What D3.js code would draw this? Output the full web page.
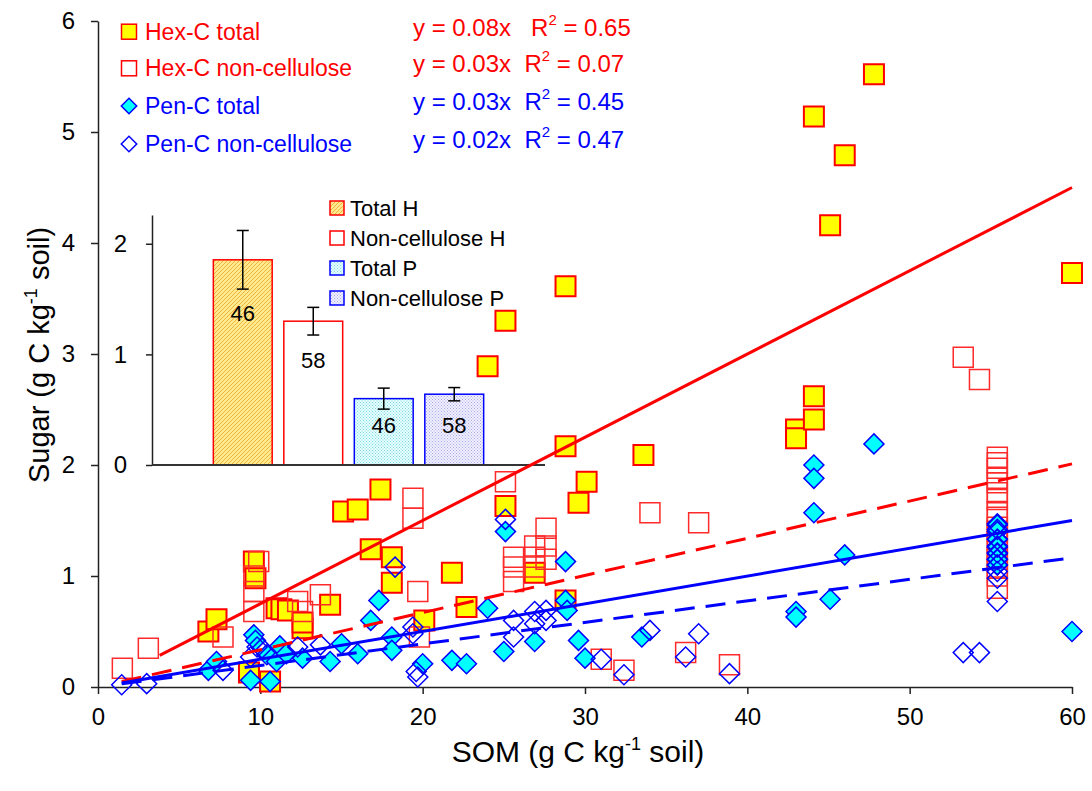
<!DOCTYPE html>
<html>
<head>
<meta charset="utf-8">
<script src="https://cdnjs.cloudflare.com/ajax/libs/d3/7.8.5/d3.min.js"></script>
<style>
body { margin: 0; background: #fff; }
svg { font-family: "Liberation Sans", Arial, sans-serif; }
.axis path, .axis line { stroke: #222; stroke-width: 1.5; }
.axis text { font-size: 24px; fill: #000; font-family: "Liberation Sans", Arial, sans-serif; }
</style>
</head>
<body>
<svg id="chart" width="1092" height="791"></svg>
<script>
// scatter series, [SOM, sugar]
var hexTotal = [[6.8,0.50],[7.3,0.61],[9.3,0.13],[9.6,1.13],[9.7,0.98],[10.6,0.05],[11.0,0.71],[11.3,0.70],
  [11.7,0.69],[12.6,0.53],[12.6,0.58],[14.3,0.74],[15.1,1.58],[16.0,1.60],[16.8,1.24],[17.4,1.78],[18.1,1.17],
  [18.1,0.94],[20.1,0.60],[21.8,1.03],[22.7,0.72],[24.0,2.89],[25.1,3.30],[25.1,1.63],[26.9,1.03],[28.8,3.61],
  [28.8,2.17],[28.8,0.78],[29.6,1.66],[30.1,1.85],[33.6,2.09],[43.0,2.32],[43.0,2.24],[44.1,2.62],[44.1,2.41],
  [44.1,5.14],[45.1,4.16],[46.0,4.79],[47.8,5.52],[60.0,3.73]];

var hexNonCell = [[1.5,0.17],[3.1,0.35],[7.7,0.45],[9.9,1.13],[9.6,1.00],[9.6,0.86],[9.6,0.68],[12.3,0.77],
  [12.6,0.68],[13.7,0.83],[19.4,1.70],[19.4,1.52],[19.7,0.86],[19.8,0.45],[25.1,1.85],[25.6,1.17],[25.6,1.08],
  [25.6,0.95],[26.9,1.27],[26.9,1.17],[26.9,1.08],[27.6,1.43],[27.6,1.27],[27.6,1.15],[31.0,0.25],[32.4,0.15],
  [34.0,1.57],[36.2,0.31],[37.0,1.48],[38.9,0.20],[53.3,2.97],[54.3,2.77],
  [55.4,2.07],[55.4,2.02],[55.4,1.97],[55.4,1.88],[55.4,1.84],[55.4,1.75],[55.4,1.69],[55.4,1.58],[55.4,1.53],
  [55.4,1.44],[55.4,1.40],[55.4,1.31],[55.4,1.22],[55.4,1.15],[55.4,1.08],[55.4,1.00],[55.4,0.89]];

var penTotal = [[6.8,0.15],[7.3,0.23],[9.4,0.06],[9.6,0.47],[9.7,0.42],[10.4,0.29],[10.6,0.05],[11.0,0.23],
  [11.2,0.37],[11.6,0.30],[12.6,0.26],[14.3,0.23],[15.0,0.39],[16.0,0.30],[16.8,0.60],[17.3,0.78],[18.1,0.45],
  [18.1,0.33],[20.0,0.21],[21.8,0.24],[22.7,0.21],[24.0,0.71],[25.0,0.32],[25.1,1.40],[26.9,0.41],[28.8,1.13],
  [28.8,0.78],[28.9,0.69],[29.6,0.42],[30.0,0.26],[33.5,0.45],[43.0,0.68],[43.0,0.63],[44.1,2.00],[44.1,1.88],
  [44.1,1.57],[45.1,0.79],[46.0,1.19],[47.8,2.19],[60.0,0.50],
  [55.4,1.47],[55.4,1.40],[55.4,1.33],[55.4,1.27],[55.4,1.20],[55.4,1.15],[55.4,1.10]];

var penNonCell = [[1.46,0.02],[3.0,0.03],[7.7,0.15],[9.4,0.27],[9.8,0.36],[10.1,0.35],[12.3,0.36],[13.7,0.38],
  [18.3,1.08],[19.4,0.54],[19.4,0.48],[19.6,0.14],[19.7,0.09],[25.1,1.51],[25.6,0.60],[25.6,0.45],[26.9,0.68],
  [26.9,0.57],[27.6,0.69],[27.6,0.60],[31.0,0.25],[32.4,0.11],[34.0,0.51],[36.2,0.27],[37.0,0.48],[38.9,0.12],
  [53.3,0.31],[54.3,0.31],
  [55.4,1.46],[55.4,1.42],[55.4,1.33],[55.4,1.26],[55.4,1.21],[55.4,1.15],[55.4,1.10],[55.4,1.04],[55.4,0.98],[55.4,0.77]];

// trendlines through origin
var seriesNames = ["Hex-C total", "Hex-C non-cellulose", "Pen-C total", "Pen-C non-cellulose"];
var trendSlope = [0.075, 0.0335, 0.025, 0.0194];
var trendFrom = [3.8, 1.46, 1.46, 1.46];
var trendTo = [60, 60, 60, 60];
var eqText = ["y = 0.08x", "y = 0.03x", "y = 0.03x", "y = 0.02x"];
var r2Text = ["0.65", "0.07", "0.45", "0.47"];

var xTicks = [0, 10, 20, 30, 40, 50, 60];
var yTicks = [0, 1, 2, 3, 4, 5, 6];

// inset bar chart
var barNames = ["Total H", "Non-cellulose H", "Total P", "Non-cellulose P"];
var barMean = [1.855, 1.30, 0.60, 0.64];
var barErr = [0.265, 0.125, 0.095, 0.06];
var barN = ["46", "58", "46", "58"];
var barNAt = [1.37, 0.95, 0.36, 0.36];
var insetTicks = [0, 1, 2];

var RED = "#ff0000", BLUE = "#0000ff";

var svg = d3.select("#chart");
var defs = svg.append("defs");

function dotPattern(id, bg, fg) {
  var p = defs.append("pattern").attr("id", id).attr("patternUnits", "userSpaceOnUse")
    .attr("width", 3).attr("height", 3);
  p.append("rect").attr("width", 3).attr("height", 3).attr("fill", bg);
  p.append("rect").attr("width", 1).attr("height", 1).attr("fill", fg);
  p.append("rect").attr("x", 1.5).attr("y", 1.5).attr("width", 1).attr("height", 1).attr("fill", fg);
}
var hatch = defs.append("pattern").attr("id", "hatchH").attr("patternUnits", "userSpaceOnUse")
  .attr("width", 4).attr("height", 4);
hatch.append("rect").attr("width", 4).attr("height", 4).attr("fill", "#ffe98f");
hatch.append("path").attr("d", "M0,4L4,0M-1,1L1,-1M3,5L5,3").attr("stroke", "#f0b43c").attr("stroke-width", 1);
dotPattern("dotP", "#e6ffff", "#7fd6df");
dotPattern("dotNP", "#f0f0ff", "#a8a8e6");
var barFill = ["url(#hatchH)", "#ffffff", "url(#dotP)", "url(#dotNP)"];
var barStroke = [RED, RED, BLUE, BLUE];

var x = d3.scaleLinear().domain([0, 60]).range([98, 1072]);
var y = d3.scaleLinear().domain([0, 6]).range([687, 21]);
var fmt = d3.format("d");

// axes
svg.append("g").attr("class", "axis").attr("transform", "translate(0,687)")
  .call(d3.axisBottom(x).tickValues(xTicks).tickSize(7).tickSizeOuter(0).tickPadding(14).tickFormat(fmt));
svg.append("g").attr("class", "axis").attr("transform", "translate(98,0)")
  .call(d3.axisLeft(y).tickValues(yTicks).tickSize(7).tickSizeOuter(0).tickPadding(16).tickFormat(fmt));

function axisTitle(t) {
  t.append("tspan").text(t.attr("data-a"));
  t.append("tspan").attr("dy", -12).attr("font-size", 18).text("-1");
  t.append("tspan").attr("dy", 12).text(" soil)");
}
svg.append("text").attr("x", 578).attr("y", 762).attr("text-anchor", "middle").attr("font-size", 30)
  .attr("data-a", "SOM (g C kg").call(axisTitle);
svg.append("text").attr("transform", "translate(49,355) rotate(-90)").attr("text-anchor", "middle").attr("font-size", 29)
  .attr("data-a", "Sugar (g C kg").call(axisTitle);

// inset bar chart (drawn under the scatter marks, no background)
var xIn = d3.scaleBand().domain(barNames).range([152, 545]).paddingInner(0.165).paddingOuter(0.87);
var yIn = d3.scaleLinear().domain([0, 2.26]).range([465, 215]);
var inset = svg.append("g");
inset.append("g").attr("class", "axis").attr("transform", "translate(152,0)")
  .call(d3.axisLeft(yIn).tickValues(insetTicks).tickSize(6).tickSizeOuter(0).tickPadding(19).tickFormat(fmt));
inset.selectAll(".bar").data(barNames).enter().append("rect")
  .attr("x", function(d) { return xIn(d); })
  .attr("y", function(d, i) { return yIn(barMean[i]); })
  .attr("width", xIn.bandwidth())
  .attr("height", function(d, i) { return yIn(0) - yIn(barMean[i]); })
  .attr("fill", function(d, i) { return barFill[i]; })
  .attr("stroke", function(d, i) { return barStroke[i]; })
  .attr("stroke-width", 1.5);
inset.append("line").attr("x1", 152).attr("x2", 545).attr("y1", yIn(0)).attr("y2", yIn(0))
  .attr("stroke", "#333").attr("stroke-width", 2);
var err = inset.selectAll(".err").data(barNames).enter().append("g")
  .attr("stroke", "#000").attr("stroke-width", 1.5);
err.append("line")
  .attr("x1", function(d) { return xIn(d) + xIn.bandwidth() / 2; })
  .attr("x2", function(d) { return xIn(d) + xIn.bandwidth() / 2; })
  .attr("y1", function(d, i) { return yIn(barMean[i] + barErr[i]); })
  .attr("y2", function(d, i) { return yIn(barMean[i] - barErr[i]); });
[1, -1].forEach(function(s) {
  err.append("line")
    .attr("x1", function(d) { return xIn(d) + xIn.bandwidth() / 2 - 6; })
    .attr("x2", function(d) { return xIn(d) + xIn.bandwidth() / 2 + 6; })
    .attr("y1", function(d, i) { return yIn(barMean[i] + s * barErr[i]); })
    .attr("y2", function(d, i) { return yIn(barMean[i] + s * barErr[i]); });
});
inset.selectAll(".n").data(barNames).enter().append("text")
  .attr("x", function(d) { return xIn(d) + xIn.bandwidth() / 2; })
  .attr("y", function(d, i) { return yIn(barNAt[i]) + 8; })
  .attr("text-anchor", "middle").attr("font-size", 22)
  .text(function(d, i) { return barN[i]; });
var il = inset.selectAll(".ileg").data(barNames).enter().append("g")
  .attr("transform", function(d, i) { return "translate(337," + (208 + i * 30) + ")"; });
il.append("rect").attr("x", -7).attr("y", -7).attr("width", 14).attr("height", 14)
  .attr("fill", function(d, i) { return barFill[i]; })
  .attr("stroke", function(d, i) { return barStroke[i]; }).attr("stroke-width", 1.5);
il.append("text").attr("x", 13).attr("y", 8).attr("font-size", 22).text(function(d) { return d; });

// scatter marks
var sq = d3.symbol().type(d3.symbolSquare).size(400);
var dm = d3.symbol().type(d3.symbolSquare).size(200);
function marks(data, shape, rot, fill, stroke, sw) {
  svg.append("g").selectAll("path").data(data).enter().append("path")
    .attr("d", shape)
    .attr("transform", function(d) { return "translate(" + x(d[0]) + "," + y(d[1]) + ") rotate(" + rot + ")"; })
    .attr("fill", fill).attr("stroke", stroke).attr("stroke-width", sw);
}
marks(hexTotal, sq, 0, "#ffff00", RED, 2);
marks(hexNonCell, sq, 0, "none", "#ff2a2a", 1.5);
marks(penTotal, dm, 45, "#00ffff", BLUE, 1.5);
marks(penNonCell, dm, 45, "none", BLUE, 1.5);

// trend lines
var trendColor = [RED, RED, BLUE, BLUE];
var trendDash = [null, "20,11", null, "20,11"];
var line = d3.line().x(function(d) { return x(d[0]); }).y(function(d) { return y(d[1]); });
trendSlope.forEach(function(k, i) {
  svg.append("path")
    .attr("d", line([[trendFrom[i], k * trendFrom[i]], [trendTo[i], k * trendTo[i]]]))
    .attr("fill", "none").attr("stroke", trendColor[i]).attr("stroke-width", 3)
    .attr("stroke-dasharray", trendDash[i]);
});

// legend
var legRowY = [31.7, 68.3, 106, 144];
var leg = svg.append("g");
seriesNames.forEach(function(name, i) {
  var g = leg.append("g").attr("transform", "translate(129," + legRowY[i] + ")");
  if (i < 2) {
    g.append("rect").attr("x", -7.5).attr("y", -7.5).attr("width", 15).attr("height", 15)
      .attr("fill", i == 0 ? "#ffff00" : "#fff").attr("stroke", RED).attr("stroke-width", 1.5);
  } else {
    g.append("path").attr("d", d3.symbol().type(d3.symbolSquare).size(120)).attr("transform", "rotate(45)")
      .attr("fill", i == 2 ? "#00ffff" : "#fff").attr("stroke", BLUE).attr("stroke-width", 1.5);
  }
  g.append("text").attr("x", 16).attr("y", 8).attr("font-size", 23).attr("fill", trendColor[i]).text(name);

  var eq = svg.append("text").attr("x", 413).attr("y", legRowY[i] + 4).attr("font-size", 24)
    .attr("fill", trendColor[i]).style("white-space", "pre");
  eq.append("tspan").text(eqText[i] + (i == 0 ? "   R" : "  R"));
  eq.append("tspan").attr("dy", -11).attr("font-size", 15).text("2");
  eq.append("tspan").attr("dy", 11).text(" = " + r2Text[i]);
});
</script>
</body>
</html>
